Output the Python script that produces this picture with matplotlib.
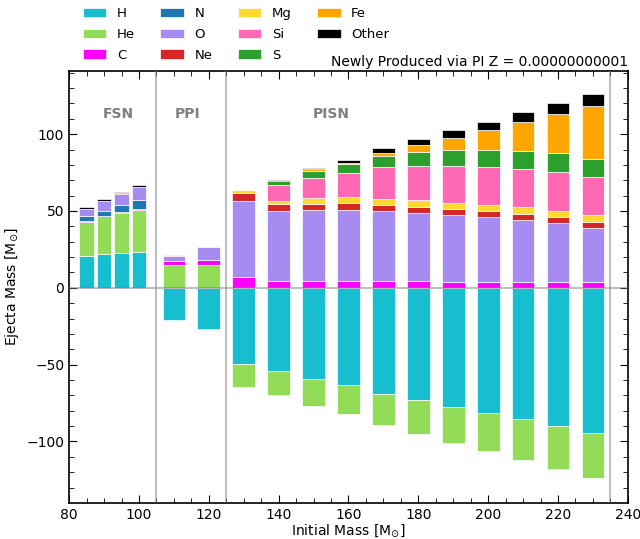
import matplotlib
matplotlib.use("Agg")
import matplotlib.pyplot as plt
import numpy as np

# initial masses of the models (FSN, PPI, PISN)
mass = [85, 90, 95, 100, 110, 120,
        130, 140, 150, 160, 170, 180, 190, 200, 210, 220, 230]

# ejected mass per element [Msun]; negative = net destroyed
H_pos = [20.5, 22.0, 22.5, 23.0, 0, 0,
         0, 0, 0, 0, 0, 0, 0, 0, 0, 0, 0]
H_neg = [0, 0, 0, 0, -20.8, -26.7,
         -49.5, -54.1, -59.3, -63.2, -69.1, -73.0, -77.5, -81.4, -85.7, -90.2, -94.7]
He_pos = [22.5, 24.5, 26.5, 27.8, 15.0, 15.0,
          0, 0, 0, 0, 0, 0, 0, 0, 0, 0, 0]
He_neg = [0, 0, 0, 0, 0, 0,
          -14.8, -15.9, -17.9, -19.2, -20.3, -22.3, -23.7, -25.0, -26.6, -27.9, -29.3]
C = [0.2, 0.2, 0.3, 0.6, 2.4, 3.0,
     7.0, 4.6, 4.6, 4.6, 4.6, 4.6, 3.9, 3.9, 3.9, 3.9, 3.9]
N = [3.8, 3.5, 4.7, 5.7, 0, 0,
     0, 0, 0, 0, 0, 0, 0, 0, 0, 0, 0]
O = [4.4, 6.4, 7.0, 8.3, 3.0, 8.5,
     49.7, 45.1, 46.2, 46.2, 45.1, 44.3, 43.2, 41.9, 40.0, 38.0, 34.7]
Ne = [0.1, 0.1, 0.5, 0.2, 0.6, 0,
      5.2, 4.6, 3.9, 4.6, 4.4, 3.9, 3.9, 3.9, 3.9, 3.9, 3.9]
Mg = [0, 0, 0, 0, 0, 0,
      1.9, 2.4, 3.9, 3.9, 3.9, 4.5, 4.4, 3.9, 4.5, 4.4, 4.6]
Si = [0, 0, 0, 0, 0.3, 0,
      0, 9.9, 13.1, 15.6, 20.4, 22.2, 24.1, 25.2, 25.2, 25.4, 25.2]
S = [0, 0, 0, 0, 0, 0,
     0, 2.6, 4.5, 5.9, 7.6, 9.1, 10.4, 11.1, 11.7, 12.3, 11.7]
Fe = [0, 0, 0, 0, 0, 0,
      0, 0.2, 0.9, 0.2, 1.7, 4.4, 7.6, 12.8, 18.7, 25.3, 34.4]
Other = [0.8, 0.8, 1.0, 1.5, 0, 0,
         0, 1.0, 1.1, 2.4, 3.3, 3.9, 5.2, 5.2, 6.5, 7.1, 7.8]

elements = ["H", "He", "C", "N", "O", "Ne", "Mg", "Si", "S", "Fe", "Other"]
colors = {"H": "#17becf", "He": "#92dc57", "C": "#ff00ff", "N": "#1f77b4",
          "O": "#a68bf0", "Ne": "#d62728", "Mg": "#ffd92f", "Si": "#ff69b4",
          "S": "#2ca02c", "Fe": "#ffa500", "Other": "#000000"}
positive = {"H": H_pos, "He": He_pos, "C": C, "N": N, "O": O, "Ne": Ne,
            "Mg": Mg, "Si": Si, "S": S, "Fe": Fe, "Other": Other}
negative = {"H": H_neg, "He": He_neg}


def main():
    x = np.array(mass, dtype=float)
    width = np.where(x < 105, 4.2, 6.5)

    fig = plt.figure(figsize=(6.4, 5.39), dpi=100)
    ax = fig.add_axes([0.108, 0.067, 0.873, 0.801])

    handles = {}
    bottom = np.zeros(len(x))
    for el in elements:
        v = np.array(positive[el], dtype=float)
        m = v != 0
        b = ax.bar(x[m], v[m], width[m], bottom=bottom[m], color=colors[el],
                   edgecolor="white", linewidth=0.5, label=el, zorder=2)
        handles[el] = b
        bottom += v

    bottom = np.zeros(len(x))
    for el in ["H", "He"]:
        v = np.array(negative[el], dtype=float)
        m = v != 0
        ax.bar(x[m], v[m], width[m], bottom=bottom[m], color=colors[el],
               edgecolor="white", linewidth=0.5, zorder=2)
        bottom += v

    ax.axhline(0, color="gray", alpha=0.5, lw=1.5, zorder=3)
    for xv in [105, 125, 235]:
        ax.axvline(xv, color="gray", alpha=0.5, lw=1.5, zorder=3)

    for lab, xv in [("FSN", 94), ("PPI", 114), ("PISN", 155)]:
        ax.text(xv, 113, lab, ha="center", va="center", fontsize=10,
                fontweight="bold", color="gray")

    ax.set_xlim(80, 240)
    ax.set_ylim(-140, 141)
    ax.set_xticks(np.arange(80, 241, 20))
    ax.set_xticks(np.arange(80, 241, 5), minor=True)
    ax.set_yticks([-100, -50, 0, 50, 100])
    ax.set_yticks(np.arange(-130, 141, 10), minor=True)
    ax.tick_params(which="both", direction="in", top=True, right=True)
    ax.tick_params(which="major", length=6)
    ax.tick_params(which="minor", length=3.5)
    for sp in ax.spines.values():
        sp.set_linewidth(1.2)

    ax.set_xlabel(r"Initial Mass [M$_{\odot}$]", labelpad=0.5)
    ax.set_ylabel(r"Ejecta Mass [M$_{\odot}$]")
    ax.set_title("Newly Produced via PI Z = 0.00000000001", loc="right",
                 fontsize=10, pad=4)

    fig.legend([handles[e] for e in elements], elements, loc="upper left",
               bbox_to_anchor=(0.121, 0.997), ncol=4, frameon=False,
               borderaxespad=0, fontsize=9.5, handlelength=1.8,
               columnspacing=1.9, labelspacing=0.6)

    fig.savefig("out.png")


if __name__ == '__main__':
    main()
